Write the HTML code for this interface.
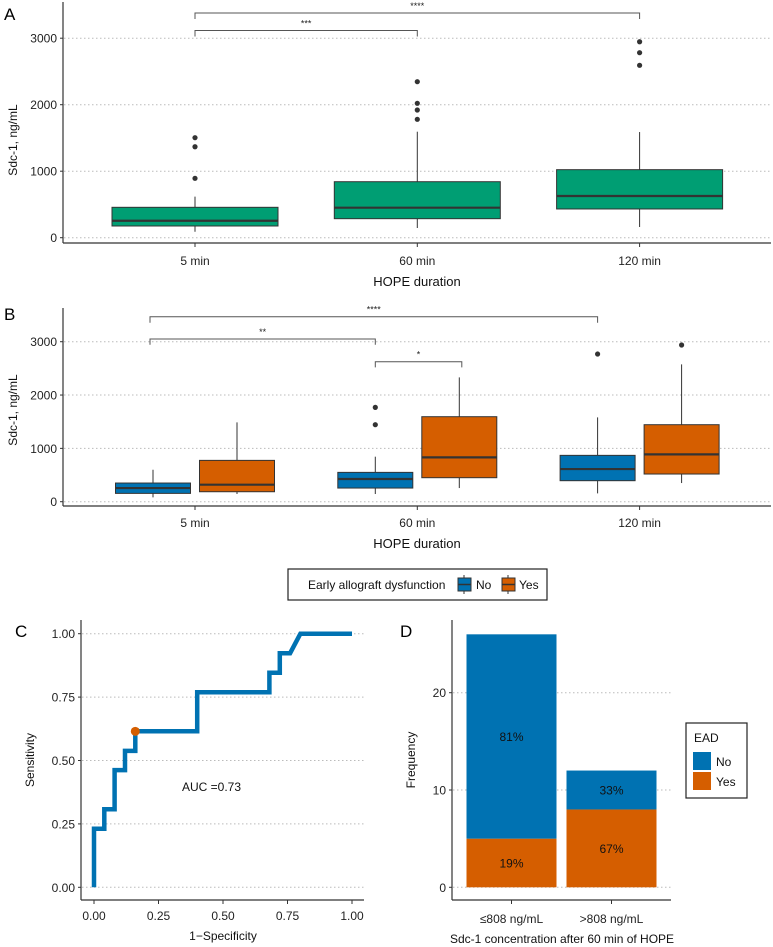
<!DOCTYPE html>
<html><head><meta charset="utf-8"><style>
html,body{margin:0;padding:0;background:#fff;}
svg{display:block;font-family:"Liberation Sans",sans-serif;}
</style></head><body>
<svg id="fig" width="773" height="947" viewBox="0 0 773 947" xmlns="http://www.w3.org/2000/svg"></svg>
<script>
// ---- Panel A data ----
const aCategories = ["5 min","60 min","120 min"];
const aLow = [90,146,161];
const aQ1 = [176,286,432];
const aMedian = [255,451,627];
const aQ3 = [457,842,1023];
const aHigh = [617,1594,1589];
const aOutliers = [[893,1368,1504],[1780,1920,2021,2346],[2592,2782,2947]];
const aYTicks = [0,1000,2000,3000];
// ---- Panel B data ----
const bCategories = ["5 min","60 min","120 min"];
const bGroups = ["No","Yes"];
const bNoLow = [81,144,156], bNoQ1=[156,256,394], bNoMed=[256,425,612], bNoQ3=[350,550,869], bNoHigh=[600,844,1581];
const bNoOut = [[],[1444,1769],[2769]];
const bYesLow = [144,256,350], bYesQ1=[187,450,519], bYesMed=[319,831,888], bYesQ3=[775,1594,1444], bYesHigh=[1487,2331,2575];
const bYesOut = [[],[],[2938]];
const bYTicks = [0,1000,2000,3000];
// ---- Panel C data ----
const rocFpr = [0,0,0.04,0.04,0.08,0.08,0.12,0.12,0.16,0.16,0.40,0.40,0.68,0.68,0.72,0.72,0.76,0.80,1.00];
const rocTpr = [0,0.231,0.231,0.308,0.308,0.462,0.462,0.538,0.538,0.615,0.615,0.769,0.769,0.846,0.846,0.923,0.923,1,1];
const cutFpr = 0.16, cutTpr = 0.615;
const cTicks = [0,0.25,0.5,0.75,1];
const cTickLabels = ["0.00","0.25","0.50","0.75","1.00"];
// ---- Panel D data ----
const dCategories = ["≤808 ng/mL",">808 ng/mL"];
const dYes = [5,8];
const dNo = [21,4];
const dYesPct = ["19%","67%"];
const dNoPct = ["81%","33%"];
const dYTicks = [0,10,20];

const NS="http://www.w3.org/2000/svg";
const svg=document.getElementById('fig');
function mk(tag,attrs,parent,text){const e=document.createElementNS(NS,tag);for(const k in attrs)e.setAttribute(k,attrs[k]);if(text!==undefined)e.textContent=text;(parent||svg).appendChild(e);return e;}
const GREEN="#009E73",BLUE="#0072B2",ORANGE="#D55E00",DARK="#333";

function grid(g,x1,x2,y){const l=mk('line',{x1:x1,x2:x2,y1:y,y2:y,stroke:"#bbb","stroke-width":1,"stroke-dasharray":"1.5,2.5"},g);}
function boxplot(g,cx,w,ys,lo,q1,md,q3,hi,outs,fill,name){
  const b=mk('g',{},g);
  
  
  mk('line',{x1:cx,x2:cx,y1:ys(lo),y2:ys(q1),stroke:DARK,"stroke-width":1},b);
  mk('line',{x1:cx,x2:cx,y1:ys(q3),y2:ys(hi),stroke:DARK,"stroke-width":1},b);
  mk('rect',{x:cx-w/2,y:ys(q3),width:w,height:ys(q1)-ys(q3),fill:fill,stroke:DARK,"stroke-width":1},b);
  mk('line',{x1:cx-w/2,x2:cx+w/2,y1:ys(md),y2:ys(md),stroke:DARK,"stroke-width":2.2},b);
  outs.forEach(v=>{const c=mk('circle',{cx:cx,cy:ys(v),r:2.6,fill:DARK},b);});
}
function bracket(g,x1,x2,y,drop,label){
  const b=mk('g',{},g);
  
  
  mk('path',{d:`M${x1},${y+drop}V${y}H${x2}V${y+drop}`,fill:"none",stroke:"#555","stroke-width":1},b);
  mk('text',{x:(x1+x2)/2,y:y-4,"text-anchor":"middle","font-size":9,fill:"#222"},b,label);
}
function axes(g,x0,x1,yTop,yBot){
  mk('line',{x1:x0,x2:x0,y1:yTop,y2:yBot,stroke:DARK,"stroke-width":1.2},g);
  mk('line',{x1:x0,x2:x1,y1:yBot,y2:yBot,stroke:DARK,"stroke-width":1.2},g);
}

// ===== Panel A =====
(function(){
  const g=mk('g',{});
  const ys=v=>237.7-v*0.0665; const xc=i=>195+i*222.3;
  aYTicks.forEach(t=>{grid(g,64,771,ys(t));mk('line',{x1:60,x2:63,y1:ys(t),y2:ys(t),stroke:DARK},g);
    const tl=mk('text',{x:57,y:ys(t)+4.5,"text-anchor":"end","font-size":12,fill:"#222"},g,String(t));});
  axes(g,63,771,2,243);
  aCategories.forEach((c,i)=>{
    boxplot(g,xc(i),166,ys,aLow[i],aQ1[i],aMedian[i],aQ3[i],aHigh[i],aOutliers[i],GREEN,'box-'+i);
    mk('line',{x1:xc(i),x2:xc(i),y1:243,y2:247,stroke:DARK},g);
    const tl=mk('text',{x:xc(i),y:265,"text-anchor":"middle","font-size":12,fill:"#222"},g,c);
  });
  bracket(g,xc(0),xc(2),13,6,"****");
  bracket(g,xc(0),xc(1),30.5,6,"***");
  const t=mk('text',{x:417,y:286,"text-anchor":"middle","font-size":13,fill:"#111"},g,"HOPE duration");
  const yt=mk('text',{x:0,y:0,transform:"translate(17,140) rotate(-90)","text-anchor":"middle","font-size":12,fill:"#111"},g,"Sdc-1, ng/mL");
  const L=mk('text',{x:4,y:20,"font-size":17,fill:"#000"},g,"A");
})();

// ===== Panel B =====
(function(){
  const g=mk('g',{});
  const ys=v=>501.7-v*0.05333; const xc=i=>195+i*222.3;
  bYTicks.forEach(t=>{grid(g,64,771,ys(t));mk('line',{x1:60,x2:63,y1:ys(t),y2:ys(t),stroke:DARK},g);
    const tl=mk('text',{x:57,y:ys(t)+4.5,"text-anchor":"end","font-size":12,fill:"#222"},g,String(t));});
  axes(g,63,771,308,506);
  bCategories.forEach((c,i)=>{
    boxplot(g,xc(i)-42,75,ys,bNoLow[i],bNoQ1[i],bNoMed[i],bNoQ3[i],bNoHigh[i],bNoOut[i],BLUE,'box-no-'+i);
    boxplot(g,xc(i)+42,75,ys,bYesLow[i],bYesQ1[i],bYesMed[i],bYesQ3[i],bYesHigh[i],bYesOut[i],ORANGE,'box-yes-'+i);
    mk('line',{x1:xc(i),x2:xc(i),y1:506,y2:510,stroke:DARK},g);
    const tl=mk('text',{x:xc(i),y:527,"text-anchor":"middle","font-size":12,fill:"#222"},g,c);
  });
  bracket(g,xc(0)-45,xc(2)-42,316.7,6,"****");
  bracket(g,xc(0)-45,xc(1)-42,339,5.7,"**");
  bracket(g,xc(1)-42,xc(1)+44.5,361.7,5.7,"*");
  const t=mk('text',{x:417,y:548,"text-anchor":"middle","font-size":13,fill:"#111"},g,"HOPE duration");
  const yt=mk('text',{x:0,y:0,transform:"translate(17,410) rotate(-90)","text-anchor":"middle","font-size":12,fill:"#111"},g,"Sdc-1, ng/mL");
  const L=mk('text',{x:4,y:320,"font-size":17,fill:"#000"},g,"B");
  // legend
  const lg=mk('g',{},g);
  mk('rect',{x:288,y:569,width:259,height:31,fill:"#fff",stroke:"#222","stroke-width":1.2},lg);
  mk('text',{x:308,y:589,"font-size":12,fill:"#111"},lg,"Early allograft dysfunction");
  [[BLUE,"No",458,476],[ORANGE,"Yes",502,519]].forEach(([col,lab,x,tx])=>{
    const e=mk('g',{},lg);
    mk('line',{x1:x+6,x2:x+6,y1:575,y2:594,stroke:DARK},e);
    mk('rect',{x:x,y:578,width:13,height:13,fill:col,stroke:DARK},e);
    mk('line',{x1:x,x2:x+13,y1:584.5,y2:584.5,stroke:DARK,"stroke-width":1.5},e);
    mk('text',{x:tx,y:589,"font-size":12,fill:"#111"},e,lab);
  });
})();

// ===== Panel C =====
(function(){
  const g=mk('g',{});
  const xs=v=>94+v*258, ys=v=>887.3-v*253.6;
  cTicks.forEach((t,i)=>{grid(g,82,364,ys(t));mk('line',{x1:78,x2:81,y1:ys(t),y2:ys(t),stroke:DARK},g);
    const tl=mk('text',{x:75,y:ys(t)+4.5,"text-anchor":"end","font-size":12,fill:"#222"},g,cTickLabels[i]);
    mk('line',{x1:xs(t),x2:xs(t),y1:900,y2:904,stroke:DARK},g);
    const xl=mk('text',{x:xs(t),y:920,"text-anchor":"middle","font-size":12,fill:"#222"},g,cTickLabels[i]);
  });
  axes(g,81,364,620,900);
  let d=rocFpr.map((f,i)=>(i?'L':'M')+xs(f).toFixed(1)+','+ys(rocTpr[i]).toFixed(1)).join('');
  const p=mk('path',{d:d,fill:"none",stroke:BLUE,"stroke-width":4.5,"stroke-linejoin":"miter"},g);
  const c=mk('circle',{cx:xs(cutFpr),cy:ys(cutTpr),r:4.5,fill:ORANGE},g);
  const a=mk('text',{x:182,y:791,"font-size":12,fill:"#111"},g,"AUC =0.73");
  const t=mk('text',{x:223,y:940,"text-anchor":"middle","font-size":12,fill:"#111"},g,"1−Specificity");
  const yt=mk('text',{x:0,y:0,transform:"translate(34,760) rotate(-90)","text-anchor":"middle","font-size":12,fill:"#111"},g,"Sensitivity");
  const L=mk('text',{x:15,y:637,"font-size":17,fill:"#000"},g,"C");
})();

// ===== Panel D =====
(function(){
  const g=mk('g',{});
  const ys=v=>887.3-v*9.73; const xc=i=>511.5+i*100; const bw=90;
  dYTicks.forEach(t=>{grid(g,453,671,ys(t));mk('line',{x1:449,x2:452,y1:ys(t),y2:ys(t),stroke:DARK},g);
    const tl=mk('text',{x:446,y:ys(t)+4.5,"text-anchor":"end","font-size":12,fill:"#222"},g,String(t));});
  axes(g,452,671,620,900);
  dCategories.forEach((c,i)=>{
    const by=mk('rect',{x:xc(i)-bw/2,y:ys(dYes[i]),width:bw,height:ys(0)-ys(dYes[i]),fill:ORANGE},g);
    
    const bn=mk('rect',{x:xc(i)-bw/2,y:ys(dYes[i]+dNo[i]),width:bw,height:ys(dYes[i])-ys(dYes[i]+dNo[i]),fill:BLUE},g);
    
    const l1=mk('text',{x:xc(i),y:(ys(0)+ys(dYes[i]))/2+4.5,"text-anchor":"middle","font-size":12,fill:"#111"},g,dYesPct[i]);
    const l2=mk('text',{x:xc(i),y:(ys(dYes[i])+ys(dYes[i]+dNo[i]))/2+4.5,"text-anchor":"middle","font-size":12,fill:"#111"},g,dNoPct[i]);
    mk('line',{x1:xc(i),x2:xc(i),y1:900,y2:904,stroke:DARK},g);
    const tl=mk('text',{x:xc(i),y:923,"text-anchor":"middle","font-size":12,fill:"#222"},g,c);
  });
  const t=mk('text',{x:562,y:943,"text-anchor":"middle","font-size":12,fill:"#111"},g,"Sdc-1 concentration after 60 min of HOPE");
  const yt=mk('text',{x:0,y:0,transform:"translate(415,760) rotate(-90)","text-anchor":"middle","font-size":12,fill:"#111"},g,"Frequency");
  const L=mk('text',{x:400,y:637,"font-size":17,fill:"#000"},g,"D");
  const lg=mk('g',{},g);
  mk('rect',{x:686,y:723,width:61,height:75,fill:"#fff",stroke:"#222","stroke-width":1.2},lg);
  mk('text',{x:694,y:742,"font-size":12,fill:"#111"},lg,"EAD");
  [[BLUE,"No",752],[ORANGE,"Yes",772]].forEach(([col,lab,y])=>{
    const e=mk('g',{},lg);
    mk('rect',{x:693,y:y,width:18,height:18,fill:col},e);
    mk('text',{x:716,y:y+14,"font-size":12,fill:"#111"},e,lab);
  });
})();
</script>
</body></html>
